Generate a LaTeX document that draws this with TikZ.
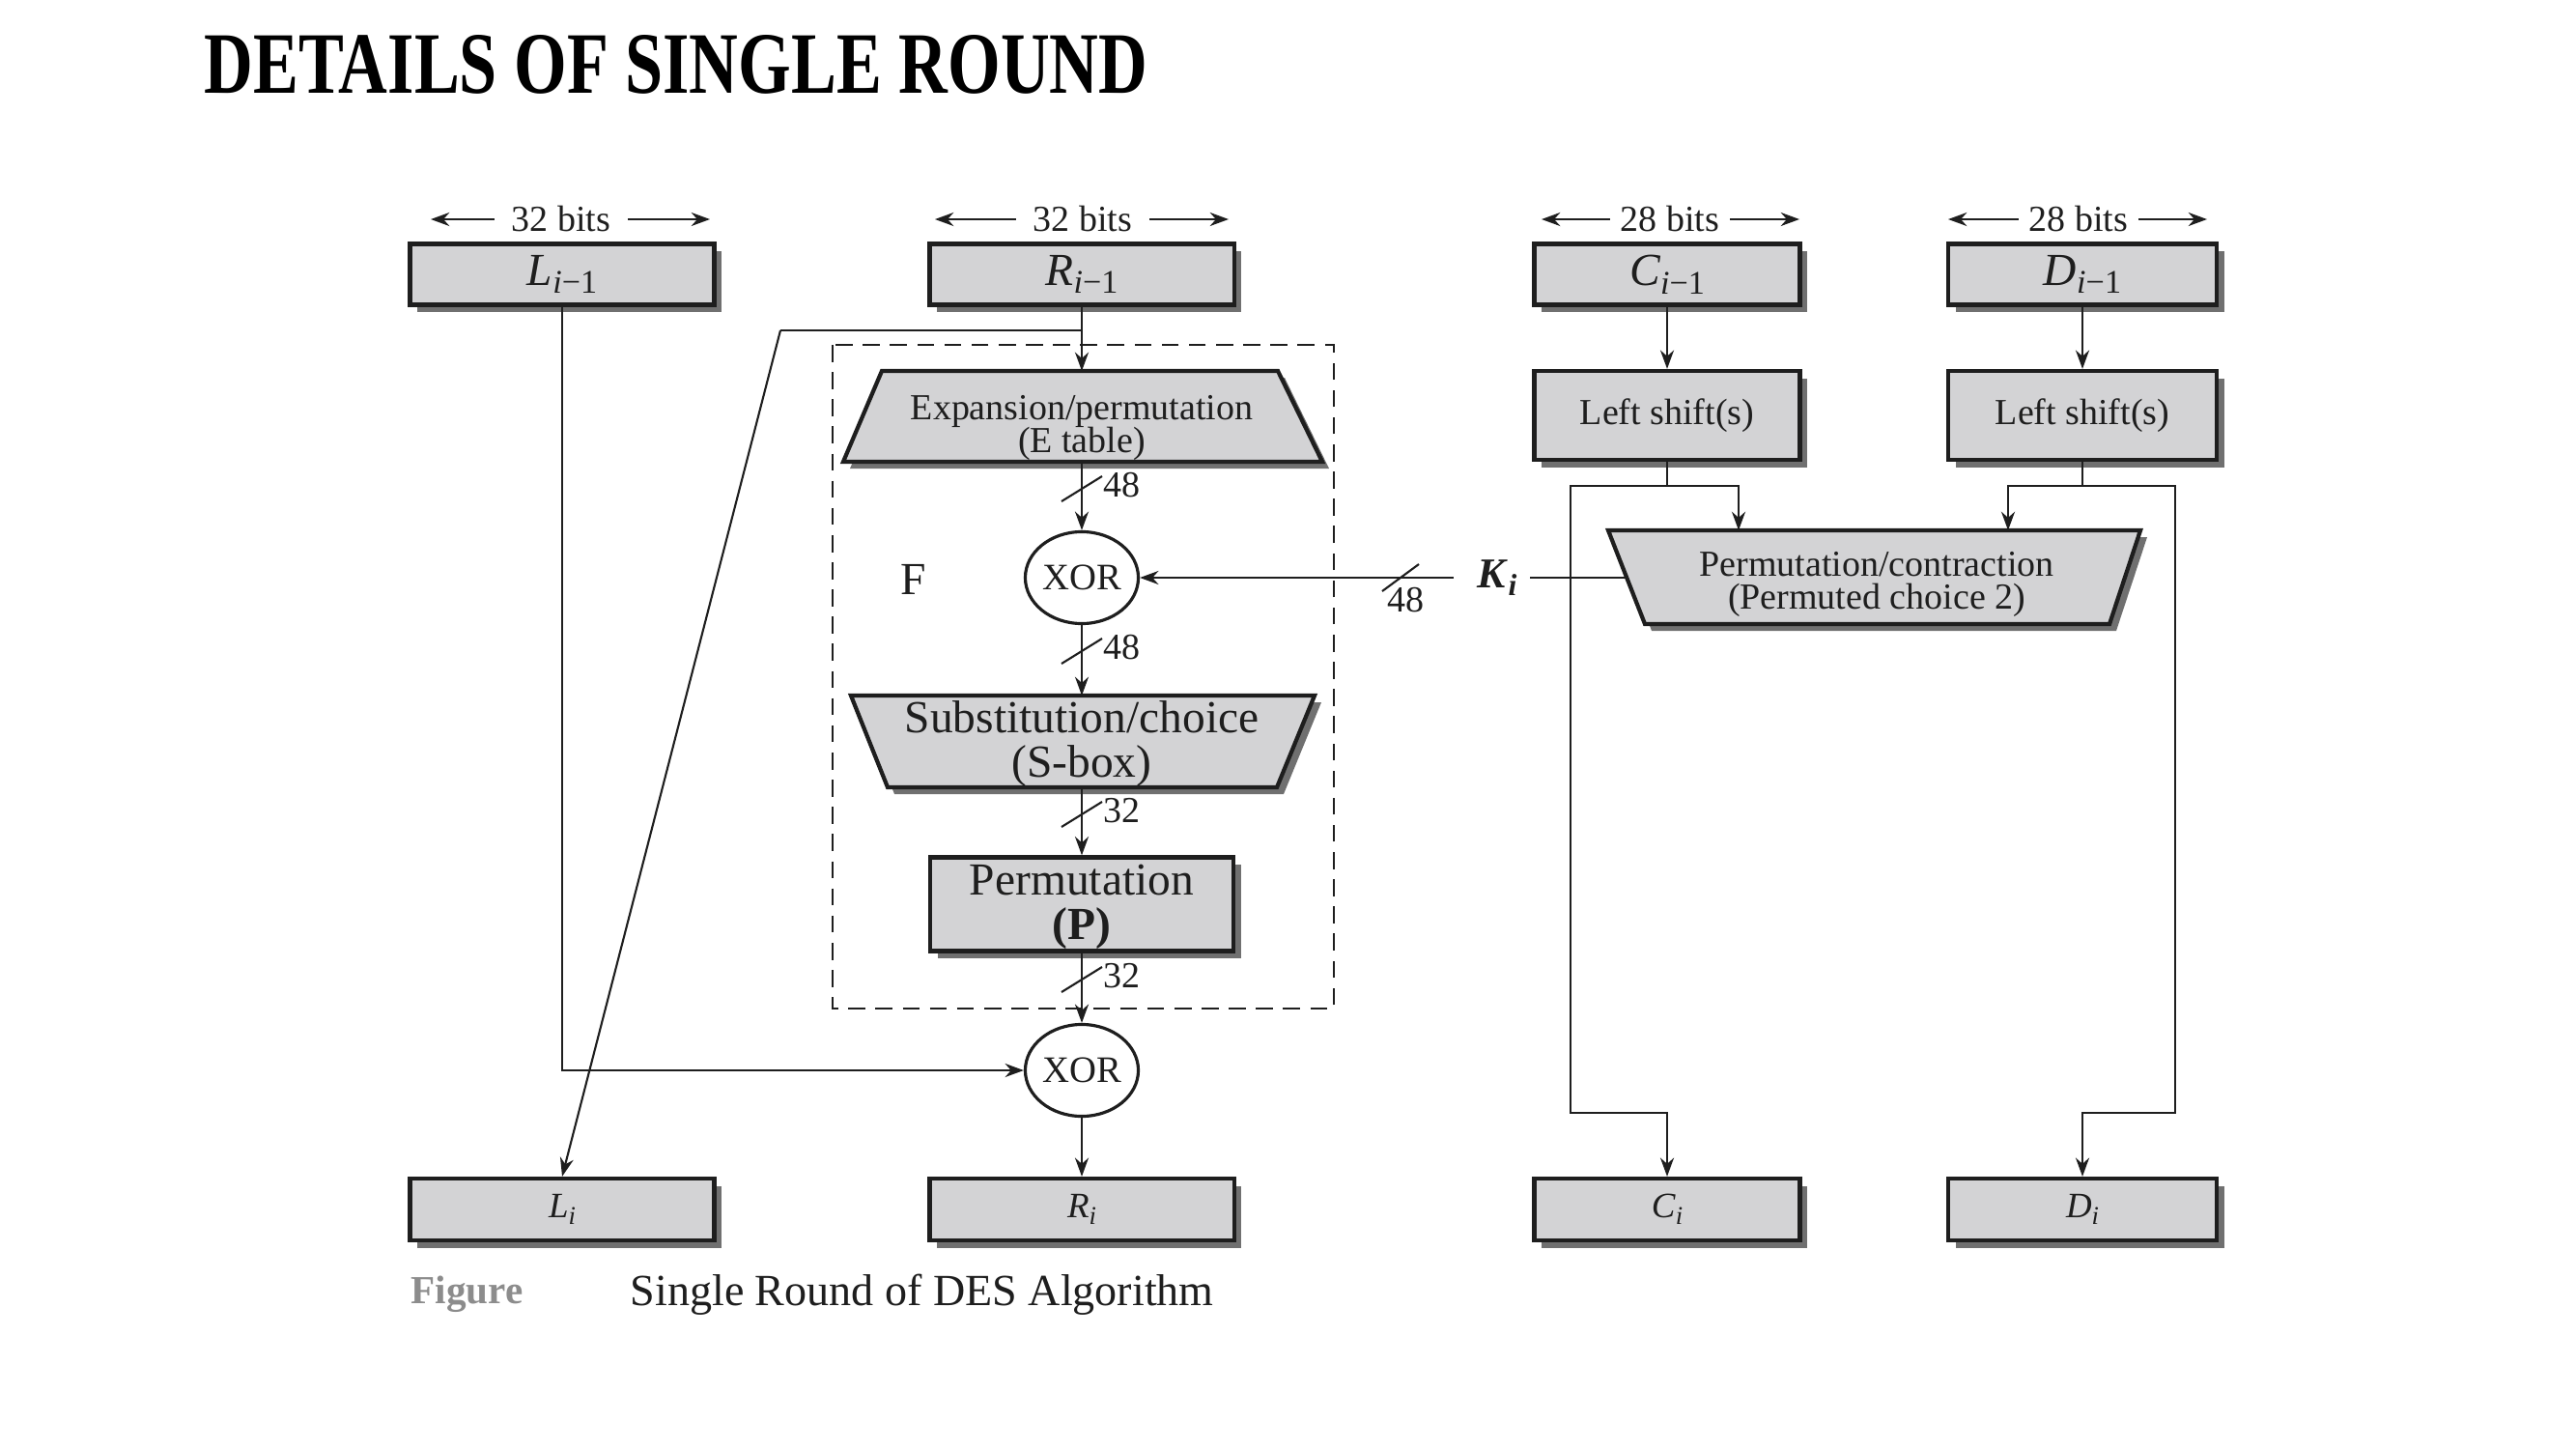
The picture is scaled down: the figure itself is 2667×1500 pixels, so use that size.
\documentclass[tikz,border=0pt]{standalone}
\usepackage{fontspec}
\setmainfont{Liberation Serif}
\usetikzlibrary{arrows.meta,shadows,calc,shapes.geometric}
\definecolor{boxfill}{HTML}{D3D3D5}
\definecolor{shadowc}{HTML}{707070}
\definecolor{inkc}{HTML}{1E1E1E}
\definecolor{figgray}{HTML}{8C8C8C}
\newcommand{\idx}[2]{\textit{#1}\raisebox{-0.4ex}{\scalebox{0.72}{#2}}}
\tikzset{
  arr/.style={-{Stealth[length=5.5pt,width=4pt]}, line width=0.6pt, draw=inkc},
  ln/.style={line width=0.6pt, draw=inkc},
  rbox/.style={draw=inkc, line width=1.2pt, fill=boxfill, inner sep=0pt,
    drop shadow={shadow xshift=2.2pt, shadow yshift=-2.2pt, fill=shadowc, opacity=1}},
  xorn/.style={ellipse, draw=inkc, line width=0.9pt, fill=white, minimum width=1.17cm,
    minimum height=0.95cm, inner sep=0pt, font=\fontsize{11}{12}\selectfont},
  trapz/.style={draw=inkc, line width=1.2pt, fill=boxfill, line join=miter},
  trapshadow/.style={fill=shadowc},
  slashmark/.style={line width=0.6pt, draw=inkc},
  bitlbl/.style={font=\fontsize{10.8}{12}\selectfont, inner sep=0pt},
  sm/.style={font=\fontsize{10.8}{9.8}\selectfont, align=center, inner sep=0pt},
  big/.style={font=\fontsize{13.5}{13}\selectfont, align=center, inner sep=0pt},
  toplbl/.style={font=\fontsize{13.5}{14}\selectfont},
  botlbl/.style={font=\fontsize{10.5}{12}\selectfont},
  every node/.style={text=inkc},
}
\begin{document}
\begin{tikzpicture}[x=0.01cm,y=-0.01cm]
\useasboundingbox (0,0) rectangle (2667,1500);

% Title
\node[anchor=base west, inner sep=0pt, text=black] (title) at (211,97)
  {\resizebox{9.76cm}{0.60cm}{\textbf{DETAILS OF SINGLE ROUND}}};

% bit-width labels
\node[bitlbl] (b1) at (581,227) {32 bits};
\node[bitlbl] (b2) at (1121,227) {32 bits};
\node[bitlbl] (b3) at (1729,227) {28 bits};
\node[bitlbl] (b4) at (2152,227) {28 bits};
\coordinate (b1lt) at (446,227); \coordinate (b1rt) at (735,227);
\coordinate (b2lt) at (968,227); \coordinate (b2rt) at (1272,227);
\coordinate (b3lt) at (1596,227); \coordinate (b3rt) at (1863,227);
\coordinate (b4lt) at (2017,227); \coordinate (b4rt) at (2285,227);
\draw[arr] ([xshift=-5pt]b1.west) -- (b1lt);
\draw[arr] ([xshift=5pt]b1.east) -- (b1rt);
\draw[arr] ([xshift=-5pt]b2.west) -- (b2lt);
\draw[arr] ([xshift=5pt]b2.east) -- (b2rt);
\draw[arr] ([xshift=-3pt]b3.west) -- (b3lt);
\draw[arr] ([xshift=3pt]b3.east) -- (b3rt);
\draw[arr] ([xshift=-3pt]b4.west) -- (b4lt);
\draw[arr] ([xshift=3pt]b4.east) -- (b4rt);

% top boxes
\node[rbox, toplbl, minimum width=3.15cm, minimum height=0.63cm] (Lp) at (582,284) {\idx{L}{\textit{i}−1}};
\node[rbox, toplbl, minimum width=3.15cm, minimum height=0.63cm] (Rp) at (1120,284) {\idx{R}{\textit{i}−1}};
\node[rbox, toplbl, minimum width=2.75cm, minimum height=0.63cm] (Cp) at (1726,284) {\idx{C}{\textit{i}−1}};
\node[rbox, toplbl, minimum width=2.78cm, minimum height=0.63cm] (Dp) at (2156,284) {\idx{D}{\textit{i}−1}};

% left shift boxes
\node[rbox, sm, minimum width=2.75cm, minimum height=0.92cm] (LSC) at (1726,430) {Left shift(s)};
\node[rbox, sm, minimum width=2.78cm, minimum height=0.92cm] (LSD) at (2156,430) {Left shift(s)};

% bottom boxes
\node[rbox, botlbl, minimum width=3.15cm, minimum height=0.64cm] (Li) at (582,1252) {\idx{L}{\textit{i}}};
\node[rbox, botlbl, minimum width=3.15cm, minimum height=0.64cm] (Ri) at (1120,1252) {\idx{R}{\textit{i}}};
\node[rbox, botlbl, minimum width=2.75cm, minimum height=0.64cm] (Ci) at (1726,1252) {\idx{C}{\textit{i}}};
\node[rbox, botlbl, minimum width=2.78cm, minimum height=0.64cm] (Di) at (2156,1252) {\idx{D}{\textit{i}}};

% F dashed box
\draw[line width=0.8pt, draw=inkc, dash pattern=on 5pt off 3pt] (862,357) rectangle (1381,1044);
\node[font=\fontsize{13.5}{14}\selectfont] (F) at (946,600) {F};

% Expansion trapezoid
\fill[trapshadow] (920,391) -- (1330,391) -- (1376,485) -- (880,485) -- cycle;
\draw[trapz] (913,384) -- (1323,384) -- (1369,478) -- (873,478) -- cycle;
\node[sm] (exp) at (1120,443) {Expansion/permutation\\(E table)};
\coordinate (exptop) at (1120,384);
\coordinate (expbot) at (1120,478);

% XOR 1
\node[xorn] (x1) at (1120,598) {XOR};

% S-box trapezoid
\fill[trapshadow] (888,727) -- (1368,727) -- (1329,822) -- (926,822) -- cycle;
\draw[trapz] (881,720) -- (1361,720) -- (1322,815) -- (919,815) -- cycle;
\node[big] (sub) at (1120,770) {Substitution/choice\\(S-box)};
\coordinate (subtop) at (1120,720);
\coordinate (subbot) at (1120,815);

% Permutation P
\node[rbox, minimum width=3.14cm, minimum height=0.97cm] (P) at (1120,936) {};
\node[big] (Ptxt) at (1120,939) {Permutation\\\textbf{(P)}};

% XOR 2
\node[xorn] (x2) at (1120,1108) {XOR};

% PC2 trapezoid
\fill[trapshadow] (1672,556) -- (2223,556) -- (2191,653) -- (1710,653) -- cycle;
\draw[trapz] (1665,549) -- (2216,549) -- (2184,646) -- (1703,646) -- cycle;
\node[sm] (pc2) at (1943,605) {Permutation/contraction\\(Permuted choice 2)};
\coordinate (pc2c) at (1800,549);
\coordinate (pc2d) at (2079,549);
\coordinate (pc2left) at (1685,598);

% R path
\coordinate (br) at (1120,342);
\coordinate (brL) at (808,342);
\draw[arr] (Rp.south) -- (exptop);
\draw[ln] (br) -- (brL);
\draw[arr] (brL) -- (Li.north);

% F internal chain with slash marks
\draw[arr] (expbot) -- (x1.north);
\draw[arr] (x1.south) -- (subtop);
\draw[arr] (subbot) -- (P.north);
\draw[arr] (P.south) -- (x2.north);
\foreach \yy/\tt in {506/48, 674/48, 843/32, 1014/32}{
  \draw[slashmark] (1099,\yy+13) -- (1141,\yy-13);
  \node[bitlbl, anchor=west] at (1142,\yy-4) {\tt};
}

% L path
\draw[arr] (Lp.south) |- (x2.west);
\draw[arr] (x2.south) -- (Ri.north);

% K_i
\node[font=\fontsize{12.5}{14}\selectfont, inner sep=0pt] (Ki) at (1550,598)
  {\textbf{\textit{K}}\raisebox{-0.4ex}{\scalebox{0.72}{\textbf{\textit{i}}}}};
\coordinate (kL) at (1505,598);
\coordinate (kR) at (1584,598);
\draw[arr] (kL) -- (x1.east);
\draw[ln] (kR) -- (pc2left);
\draw[slashmark] (1431,612) -- (1469,584);
\node[bitlbl] at (1455,621) {48};

% C side
\coordinate (cj) at (1726,503);
\coordinate (cA) at (1626,503);
\coordinate (cB) at (1626,1152);
\coordinate (cC) at (1726,1152);
\draw[arr] (Cp.south) -- (LSC.north);
\draw[arr] (LSC.south) -- (cj) -| (pc2c);
\draw[arr] (cj) -- (cA) -- (cB) -- (cC) -- (Ci.north);

% D side
\coordinate (dj) at (2156,503);
\coordinate (dA) at (2252,503);
\coordinate (dB) at (2252,1152);
\coordinate (dC) at (2156,1152);
\draw[arr] (Dp.south) -- (LSD.north);
\draw[arr] (LSD.south) -- (dj) -| (pc2d);
\draw[arr] (dj) -- (dA) -- (dB) -- (dC) -- (Di.north);

% caption
\node[anchor=west, inner sep=0pt, text=figgray, font=\fontsize{11.7}{13}\selectfont\bfseries] (figl) at (425,1340) {Figure};
\node[anchor=west, inner sep=0pt, font=\fontsize{13.1}{14}\selectfont] (cap) at (652,1340) {Single Round of DES Algorithm};
\end{tikzpicture}
\end{document}
